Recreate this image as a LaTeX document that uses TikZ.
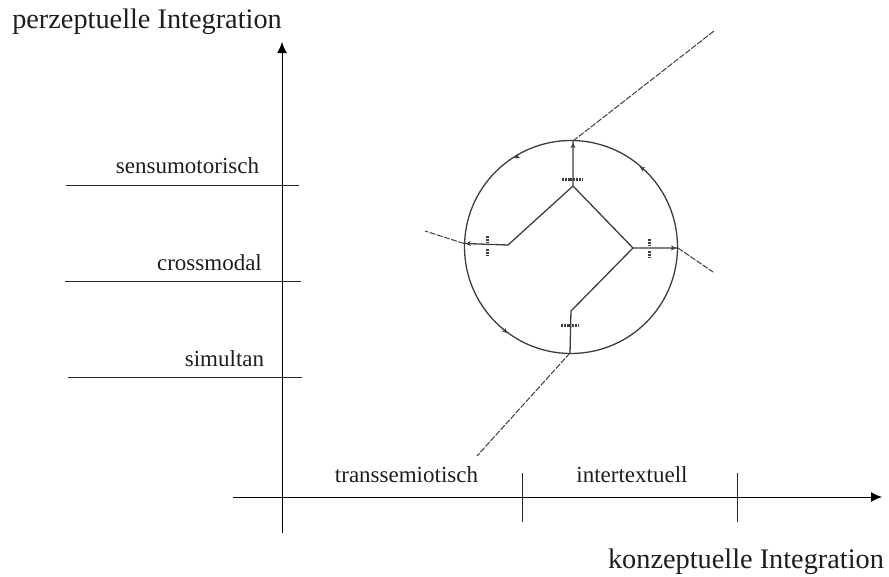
\documentclass[tikz,border=0pt]{standalone}
\usepackage{fontspec}
\setmainfont{Liberation Serif}
\usetikzlibrary{positioning,arrows.meta,calc}
\definecolor{scanLine}{RGB}{62,62,62}
\definecolor{textInk}{RGB}{30,30,30}
\tikzset{
  axis/.style={-{Latex[length=11pt,width=10pt]}, draw=black, line width=1pt},
  rule/.style={draw=black!85, line width=1pt},
  lab/.style={font=\fontsize{23}{26}\selectfont, text=textInk, inner sep=0pt, anchor=base},
  title/.style={font=\fontsize{28.3}{32}\selectfont, text=textInk, inner sep=0pt, anchor=base},
  spoke/.style={draw=scanLine, line width=1.3pt},
  ray/.style={draw=scanLine, line width=1pt, dash pattern=on 6pt off 1.5pt},
  smudge/.style={draw=scanLine, line width=3pt, dash pattern=on 2pt off 0.8pt},
  tick/.style={-{Stealth[length=5pt,width=5pt]}, draw=scanLine, line width=0.8pt},
}
\begin{document}
\begin{tikzpicture}[x=1pt, y=-1pt]
  \useasboundingbox (0,0) rectangle (889,576);
  % axes
  \coordinate (v0) at (282,533);
  \coordinate (v1) at (282,42);
  \coordinate (h0) at (233,497);
  \coordinate (h1) at (882,497);
  \draw[axis] (v0)--(v1);
  \draw[axis] (h0)--(h1);
  \node[title] (perz) at (147,28) {perzeptuelle Integration};
  \node[title] (konz) at (746,568) {konzeptuelle Integration};
  % levels
  \foreach \name/\xa/\xb/\yy/\xl/\yl/\txt in {sens/66/299/185/187.5/173/sensumotorisch, cross/65/301/281/209.5/270/crossmodal, simu/68/302/377/224.5/366/simultan}{
    \coordinate (\name a) at (\xa,\yy);
    \coordinate (\name b) at (\xb,\yy);
    \draw[rule] (\name a)--(\name b);
    \node[lab] (\name) at (\xl,\yl) {\txt};
  }
  % ticks on the x axis
  \foreach \name/\xx in {ta/522.5, tb/737.5}{
    \coordinate (\name a) at (\xx,473);
    \coordinate (\name b) at (\xx,522);
    \draw[rule] (\name a)--(\name b);
  }
  \node[lab] (trans) at (406.5,482) {transsemiotisch};
  \node[lab] (inter) at (632,482) {intertextuell};
  % scanned circle
  \node[circle, draw=scanLine, line width=1.3pt, minimum size=213pt, inner sep=0pt] (ring) at (571,247) {};
  \coordinate (top) at (573,141);
  \coordinate (midT) at (573,186);
  \coordinate (left) at (464,243.5);
  \coordinate (midL) at (508,245);
  \coordinate (right) at (678,248);
  \coordinate (midR) at (633,248);
  \coordinate (bot) at (570,353);
  \coordinate (midB) at (571,311);
  \coordinate (rayT) at (714,31);
  \coordinate (rayL) at (425,231);
  \coordinate (rayR) at (713,272);
  \coordinate (rayB) at (477,456);
  \draw[spoke] (top)--(midT)--(midL)--(left);
  \draw[spoke] (midT)--(midR)--(right);
  \draw[spoke] (midR)--(midB)--(bot);
  \draw[ray] (top)--(rayT);
  \draw[ray] (left)--(rayL);
  \draw[ray] (right)--(rayR);
  \draw[ray] (bot)--(rayB);
  % unreadable marks of the scan
  \draw[smudge] (562,179)--(582,179);
  \draw[smudge] (561,325)--(579,325);
  \draw[smudge, line width=3pt] (487,236)--(487,242);
  \draw[smudge, line width=3pt] (487,249)--(487,256);
  \draw[smudge, line width=3pt] (649,239)--(649,245);
  \draw[smudge, line width=3pt] (649,251)--(649,258);
  % small arrows on the circle
  \draw[tick] (518.5,156)--(514.5,158);
  \draw[tick] (644,169.5)--(640,167);
  \draw[tick] (503,329)--(507,333);
  \draw[tick] (573,148)--(573,143);
  \draw[tick] (471,243.5)--(466,243.5);
  \draw[tick] (671,248)--(676,248);
\end{tikzpicture}
\end{document}
